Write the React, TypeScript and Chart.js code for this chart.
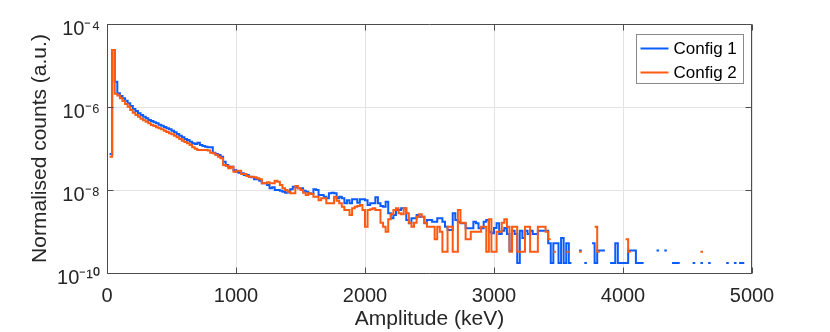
import React, { useEffect, useRef } from 'react';
import { Chart, registerables } from 'chart.js';

Chart.register(...registerables);

// ---- data ----
const BIN_START_KEV = 20;
const BIN_WIDTH_KEV = 20;
const X_TICKS = [0, 1000, 2000, 3000, 4000, 5000];
const Y_TICKS = [1e-10, 1e-8, 1e-6, 1e-4];
const Y_TICK_LABELS = ['10⁻¹⁰', '10⁻⁸', '10⁻⁶', '10⁻⁴'];
const SERIES_LABELS = ['Config 1', 'Config 2'];
const X_TITLE = 'Amplitude (keV)';
const Y_TITLE = 'Normalised counts (a.u.)';

// normalised counts per 20 keV bin (0 = empty bin)
const config1 = [
  7.4e-8, 2.36e-5, 4.07e-6, 2.14e-6, 1.84e-6, 1.62e-6, 1.42e-6, 1.23e-6, 1.06e-6, 8.95e-7,
  8.0e-7, 7.05e-7, 6.4e-7, 5.8e-7, 5.35e-7, 4.86e-7, 4.6e-7, 4.28e-7, 4.05e-7, 3.74e-7,
  3.54e-7, 3.3e-7, 3.07e-7, 2.9e-7, 2.69e-7, 2.46e-7, 2.24e-7, 2.03e-7, 1.86e-7, 1.69e-7,
  1.6e-7, 1.46e-7, 1.33e-7, 1.28e-7, 1.38e-7, 1.21e-7, 1.15e-7, 1.1e-7, 1.07e-7, 1.07e-7,
  7.9e-8, 7.4e-8, 7.0e-8, 6.35e-8, 4.8e-8, 4.0e-8, 3.64e-8, 3.64e-8, 3.03e-8, 2.76e-8,
  2.61e-8, 2.52e-8, 2.3e-8, 2.3e-8, 2.09e-8, 2.02e-8, 1.81e-8, 1.81e-8, 1.67e-8, 1.45e-8,
  1.45e-8, 1.32e-8, 1.1e-8, 1.16e-8, 1.0e-8, 1.0e-8, 9.6e-9, 9.1e-9, 8.6e-9, 9.1e-9,
  1.04e-8, 1.2e-8, 1.16e-8, 1.1e-8, 1.1e-8, 9.6e-9, 9.1e-9, 8.3e-9, 8.0e-9, 1.04e-8,
  1.0e-8, 7.6e-9, 7.6e-9, 6.9e-9, 6.3e-9, 8.3e-9, 8.6e-9, 8.3e-9, 6.3e-9, 6.9e-9,
  6.3e-9, 4.8e-9, 5.7e-9, 4.8e-9, 6.0e-9, 6.0e-9, 4.9e-9, 6.0e-9, 6.0e-9, 5.7e-9,
  4.35e-9, 4.8e-9, 4.8e-9, 6.67e-9, 4.8e-9, 4.1e-9, 3.96e-9, 5.2e-9, 2.75e-9, 2.08e-9,
  2.5e-9, 3.3e-9, 3.3e-9, 3.62e-9, 3.62e-9, 1.89e-9, 1.58e-9, 2.08e-9, 2.08e-9, 2.5e-9,
  2.28e-9, 2.28e-9, 1.58e-9, 1.89e-9, 1.89e-9, 1.72e-9, 1.72e-9, 2.08e-9, 2.08e-9, 1.72e-9,
  1.3e-9, 1.09e-9, 1.09e-9, 2.75e-9, 1.89e-9, 1.72e-9, 1.58e-9, 1.58e-9, 1.19e-9, 1.19e-9,
  1.19e-9, 1.72e-9, 1.58e-9, 1.19e-9, 1.19e-9, 1.72e-9, 1.89e-9, 9.8e-10, 9.05e-10, 1.22e-9,
  1.57e-9, 8.7e-10, 1.04e-9, 1.22e-9, 8.7e-10, 3.5e-10, 1.04e-9, 8.7e-10, 1.74e-10, 1.04e-9,
  7.0e-10, 1.04e-9, 8.7e-10, 1.04e-9, 8.7e-10, 8.7e-10, 1.04e-9, 1.04e-9, 1.04e-9, 1.04e-9,
  5.2e-10, 1.74e-10, 5.2e-10, 5.2e-10, 1.74e-10, 7.0e-10, 1.74e-10, 5.2e-10, 1.74e-10, 0,
  0, 0, 3.5e-10, 0, 1.74e-10, 0, 0, 5.2e-10, 1.74e-10, 3.5e-10,
  3.5e-10, 3.5e-10, 0, 0, 1.74e-10, 1.74e-10, 5.2e-10, 1.74e-10, 1.74e-10, 1.74e-10,
  1.74e-10, 3.5e-10, 3.5e-10, 3.5e-10, 1.74e-10, 1.74e-10, 1.74e-10, 0, 0, 0,
  0, 0, 3.5e-10, 0, 0, 3.5e-10, 0, 0, 1.74e-10, 1.74e-10,
  1.74e-10, 0, 0, 0, 0, 0, 1.74e-10, 0, 0, 1.74e-10,
  0, 0, 1.74e-10, 0, 0, 0, 0, 0, 0, 1.74e-10,
  0, 0, 1.74e-10, 0, 1.74e-10, 1.74e-10, 0, 0, 0,
];

const config2 = [
  6.35e-8, 2.36e-5, 2.1e-6, 1.9e-6, 1.62e-6, 1.4e-6, 1.18e-6, 1.02e-6, 8.5e-7, 7.3e-7,
  6.4e-7, 5.8e-7, 5.2e-7, 4.78e-7, 4.43e-7, 4.05e-7, 3.68e-7, 3.48e-7, 3.24e-7, 3.07e-7,
  2.9e-7, 2.69e-7, 2.5e-7, 2.32e-7, 2.2e-7, 2.03e-7, 1.86e-7, 1.69e-7, 1.54e-7, 1.43e-7,
  1.33e-7, 1.21e-7, 1.07e-7, 9.9e-8, 9.2e-8, 9.2e-8, 9.2e-8, 9.2e-8, 8.9e-8, 7.9e-8,
  7.66e-8, 7.0e-8, 6.35e-8, 5.8e-8, 4.0e-8, 3.79e-8, 3.33e-8, 3.64e-8, 2.76e-8, 2.92e-8,
  2.92e-8, 2.43e-8, 2.43e-8, 2.17e-8, 2.09e-8, 2.09e-8, 2.02e-8, 1.91e-8, 1.81e-8, 1.45e-8,
  1.45e-8, 1.53e-8, 1.45e-8, 1.45e-8, 1.67e-8, 1.58e-8, 1.32e-8, 1.1e-8, 1.0e-8, 9.1e-9,
  8.3e-9, 8.3e-9, 1.25e-8, 1.1e-8, 1.0e-8, 8.6e-9, 7.6e-9, 8.3e-9, 8.0e-9, 6.9e-9,
  6.9e-9, 5.7e-9, 6.3e-9, 6.3e-9, 4.8e-9, 4.8e-9, 4.8e-9, 6.9e-9, 5.5e-9, 4.8e-9,
  3.96e-9, 3.3e-9, 3.3e-9, 2.5e-9, 3.62e-9, 3.96e-9, 4.1e-9, 4.35e-9, 3.3e-9, 1.3e-9,
  3.3e-9, 3.43e-9, 3.62e-9, 3.3e-9, 3.3e-9, 1.63e-9, 1.3e-9, 9.8e-10, 1.96e-9, 2.6e-9,
  3.3e-9, 3.62e-9, 2.75e-9, 2.6e-9, 3.62e-9, 2.75e-9, 1.63e-9, 1.3e-9, 1.63e-9, 2.28e-9,
  2.6e-9, 2.28e-9, 1.63e-9, 1.3e-9, 1.3e-9, 1.3e-9, 6.5e-10, 1.3e-9, 9.8e-10, 3.26e-10,
  3.26e-10, 1.3e-9, 1.3e-9, 3.26e-10, 3.26e-10, 3.3e-9, 1.63e-9, 1.63e-9, 6.5e-10, 6.5e-10,
  9.8e-10, 9.8e-10, 9.8e-10, 9.8e-10, 1.3e-9, 1.3e-9, 3.26e-10, 1.96e-9, 3.26e-10, 3.26e-10,
  9.8e-10, 9.8e-10, 1.63e-9, 1.96e-9, 1.3e-9, 3.26e-10, 1.3e-9, 1.3e-9, 3.26e-10, 3.26e-10,
  3.26e-10, 1.3e-9, 1.3e-9, 3.26e-10, 3.26e-10, 3.26e-10, 1.3e-9, 1.3e-9, 1.3e-9, 9.8e-10,
  6.5e-10, 0, 3.26e-10, 0, 0, 0, 0, 3.26e-10, 0, 0,
  0, 0, 3.26e-10, 0, 0, 0, 0, 0, 1.3e-9, 3.26e-10,
  0, 0, 0, 0, 0, 0, 0, 0, 0, 0,
  6.5e-10, 3.26e-10, 0, 0, 0, 0, 0, 0, 0, 0,
  0, 0, 0, 0, 0, 0, 0, 0, 0, 0,
  0, 0, 0, 0, 0, 0, 0, 0, 0, 3.26e-10,
  0, 0, 0, 0, 0, 0, 0, 0, 0, 0,
  0, 0, 0, 0, 0, 0, 0, 0, 0,
];

// ---- styles ----
const BLUE = '#0a5cff';
const ORANGE = '#ff5a12';
const AXIS = '#4d4d4d';
const GRID = '#e3e3e3';
const TEXT = '#262626';
const FONT = "'Liberation Sans', Arial, Helvetica, sans-serif";

function histogramPoints(values: number[]) {
  const pts: { x: number; y: number | null }[] = [];
  values.forEach((v, i) => {
    const x0 = BIN_START_KEV + i * BIN_WIDTH_KEV;
    const x1 = x0 + BIN_WIDTH_KEV;
    if (v > 0) {
      pts.push({ x: x0, y: v });
      pts.push({ x: x1, y: v });
    } else {
      pts.push({ x: (x0 + x1) / 2, y: null });
    }
  });
  return pts;
}

const framePlugin = {
  id: 'matlabFrame',
  afterDatasetsDraw(chart: any) {
    const { ctx, chartArea } = chart;
    const xs = chart.scales.x;
    const ys = chart.scales.y;
    const L = Math.round(chartArea.left) + 0.5;
    const R = Math.round(chartArea.right) - 0.5;
    const T = Math.round(chartArea.top) + 0.5;
    const B = Math.round(chartArea.bottom) + 0.5;
    const tl = 6;
    ctx.save();
    ctx.strokeStyle = AXIS;
    ctx.lineWidth = 1;
    ctx.beginPath();
    ctx.rect(L, T, R - L, B - T);
    X_TICKS.forEach((v) => {
      const px = Math.round(xs.getPixelForValue(v)) + 0.5;
      ctx.moveTo(px, B);
      ctx.lineTo(px, B - tl);
      ctx.moveTo(px, T);
      ctx.lineTo(px, T + tl);
    });
    Y_TICKS.forEach((v) => {
      const py = Math.round(ys.getPixelForValue(v)) + 0.5;
      ctx.moveTo(L, py);
      ctx.lineTo(L + tl, py);
      ctx.moveTo(R, py);
      ctx.lineTo(R - tl, py);
    });
    ctx.stroke();
    ctx.restore();
  },
};

const legendPlugin = {
  id: 'insideLegend',
  afterDraw(chart: any) {
    const { ctx, chartArea } = chart;
    const bw = 107;
    const bh = 49;
    const bx = Math.round(chartArea.right) - 9 - bw + 0.5;
    const by = Math.round(chartArea.top) + 10 + 0.5;
    ctx.save();
    ctx.fillStyle = '#ffffff';
    ctx.fillRect(bx, by, bw, bh);
    ctx.strokeStyle = '#8a8a8a';
    ctx.lineWidth = 1;
    ctx.strokeRect(bx, by, bw, bh);
    ctx.font = `17px ${FONT}`;
    ctx.textBaseline = 'middle';
    ctx.textAlign = 'left';
    chart.data.datasets.forEach((ds: any, i: number) => {
      const yy = by + 14 + i * 24;
      ctx.strokeStyle = ds.borderColor;
      ctx.lineWidth = 2;
      ctx.beginPath();
      ctx.moveTo(bx + 4, yy);
      ctx.lineTo(bx + 32, yy);
      ctx.stroke();
      ctx.fillStyle = '#000000';
      ctx.fillText(ds.label, bx + 37, yy + 1);
    });
    ctx.restore();
  },
};

export default function App() {
  const ref = useRef<HTMLCanvasElement>(null);

  useEffect(() => {
    const canvas = ref.current;
    if (!canvas) return;
    const chart = new Chart(canvas, {
      type: 'line',
      data: {
        datasets: [
          {
            label: SERIES_LABELS[0],
            data: histogramPoints(config1),
            borderColor: BLUE,
            backgroundColor: BLUE,
            borderWidth: 2,
            pointRadius: 0,
            tension: 0,
            fill: false,
            spanGaps: false,
            order: 2,
          },
          {
            label: SERIES_LABELS[1],
            data: histogramPoints(config2),
            borderColor: ORANGE,
            backgroundColor: ORANGE,
            borderWidth: 2,
            pointRadius: 0,
            tension: 0,
            fill: false,
            spanGaps: false,
            order: 1,
          },
        ] as any,
      },
      options: {
        responsive: false,
        animation: false,
        events: [],
        layout: { padding: { left: 0, top: 24, right: 78, bottom: 0 } },
        plugins: {
          legend: { display: false },
          tooltip: { enabled: false },
        },
        scales: {
          x: {
            type: 'linear',
            min: 0,
            max: 5000,
            afterBuildTicks: (s: any) => {
              s.ticks = X_TICKS.map((v) => ({ value: v }));
            },
            afterFit: (s: any) => {
              s.height = 59;
            },
            ticks: {
              autoSkip: false,
              maxRotation: 0,
              padding: 11,
              color: TEXT,
              font: { family: FONT, size: 20 },
              callback: (v: any) => String(v),
            },
            grid: { color: GRID, drawTicks: false, lineWidth: 1 },
            border: { display: false },
            title: {
              display: true,
              text: X_TITLE,
              color: TEXT,
              font: { family: FONT, size: 21 },
              padding: { top: 0, bottom: 0 },
            },
          },
          y: {
            type: 'logarithmic',
            min: 1e-10,
            max: 1e-4,
            afterBuildTicks: (s: any) => {
              s.ticks = Y_TICKS.map((v) => ({ value: v }));
            },
            afterFit: (s: any) => {
              s.width = 107;
            },
            ticks: {
              autoSkip: false,
              padding: 7,
              color: TEXT,
              font: { family: FONT, size: 20 },
              labelOffset: (c: any) => (c.tick && c.tick.value < 5e-10 ? -2 : 5),
              callback: (v: any) => {
                const i = Y_TICKS.findIndex((t) => Math.abs(Math.log10(t) - Math.log10(Number(v))) < 1e-6);
                return i >= 0 ? Y_TICK_LABELS[i] : '';
              },
            },
            grid: { color: GRID, drawTicks: false, lineWidth: 1 },
            border: { display: false },
            title: {
              display: true,
              text: Y_TITLE,
              color: TEXT,
              font: { family: FONT, size: 21 },
              padding: { top: 28, bottom: 0 },
            },
          },
        },
      } as any,
      plugins: [framePlugin, legendPlugin],
    });
    return () => chart.destroy();
  }, []);

  return (
    <div style={{ position: 'absolute', left: 0, top: 0, width: 830, height: 332, background: '#ffffff' }}>
      <canvas ref={ref} width={830} height={332} style={{ display: 'block', width: 830, height: 332 }} />
    </div>
  );
}
